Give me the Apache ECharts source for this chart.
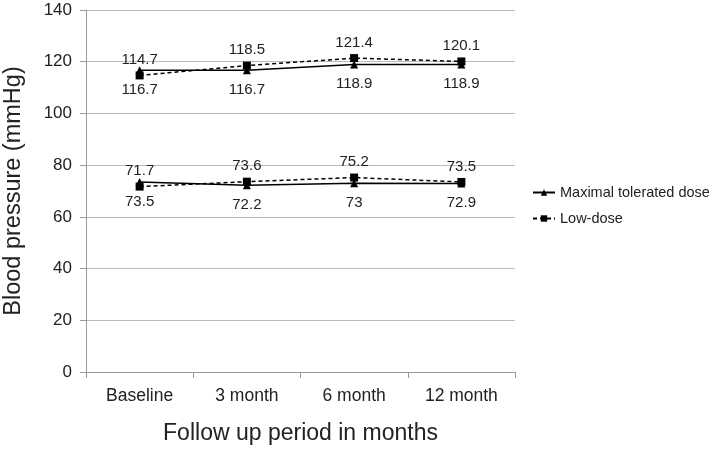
<!DOCTYPE html>
<html><head><meta charset="utf-8">
<script src="https://cdn.jsdelivr.net/npm/echarts@6/dist/echarts.min.js"></script>
<style>html,body{margin:0;padding:0;background:#fff}#c{width:709px;height:452px}</style>
</head><body><div id="c"></div>
<script>
const categories = ['Baseline', '3 month', '6 month', '12 month'];
const maxSystolic = [116.7, 116.7, 118.9, 118.9];
const lowSystolic = [114.7, 118.5, 121.4, 120.1];
const maxDiastolic = [73.5, 72.2, 73, 72.9];
const lowDiastolic = [71.7, 73.6, 75.2, 73.5];
const seriesNames = ['Maximal tolerated dose', 'Low-dose'];

const FONT = 'Liberation Sans';
const chart = echarts.init(document.getElementById('c'), null, {renderer: 'canvas'});
function mk(name, data, isLow) {
  return {
    name: name, type: 'line', data: data,
    symbol: isLow ? 'rect' : 'triangle',
    symbolSize: 8,
    itemStyle: {color: '#000'},
    lineStyle: {color: '#000', width: 1.5, type: isLow ? [4, 3] : 'solid'},
    label: {show: true, position: isLow ? 'top' : 'bottom', distance: isLow ? 4 : 8,
      color: '#222', fontSize: 15, fontFamily: FONT},
    animation: false
  };
}
chart.setOption({
  animation: false,
  textStyle: {fontFamily: FONT},
  grid: {left: 86, right: 194, top: 10, bottom: 80, containLabel: false, outerBoundsMode: 'none'},
  legend: {
    orient: 'vertical', left: 527, top: 180, itemGap: 11,
    itemWidth: 22, itemHeight: 8,
    textStyle: {fontSize: 14.5, color: '#222', fontFamily: FONT},
    data: seriesNames
  },
  xAxis: {
    type: 'category', data: categories, boundaryGap: true,
    name: 'Follow up period in months', nameLocation: 'middle', nameGap: 50,
    nameTextStyle: {fontSize: 23, color: '#222', fontFamily: FONT},
    axisLine: {lineStyle: {color: '#999'}},
    axisTick: {show: true, length: 6, lineStyle: {color: '#999'}},
    axisLabel: {fontSize: 17.5, color: '#222', margin: 15, fontFamily: FONT}
  },
  yAxis: {
    type: 'value', min: 0, max: 140, interval: 20,
    name: 'Blood pressure (mmHg)', nameLocation: 'middle', nameGap: 60, nameRotate: 90,
    nameTextStyle: {fontSize: 23.5, color: '#222', fontFamily: FONT},
    axisLine: {show: true, lineStyle: {color: '#999'}},
    axisTick: {show: true, length: 6, lineStyle: {color: '#999'}},
    axisLabel: {fontSize: 17, color: '#222', margin: 14, fontFamily: FONT},
    splitLine: {lineStyle: {color: '#bbb', width: 1}}
  },
  series: [
    mk(seriesNames[0], maxSystolic, false),
    mk(seriesNames[1], lowSystolic, true),
    mk(seriesNames[0], maxDiastolic, false),
    mk(seriesNames[1], lowDiastolic, true)
  ]
});
</script></body></html>
